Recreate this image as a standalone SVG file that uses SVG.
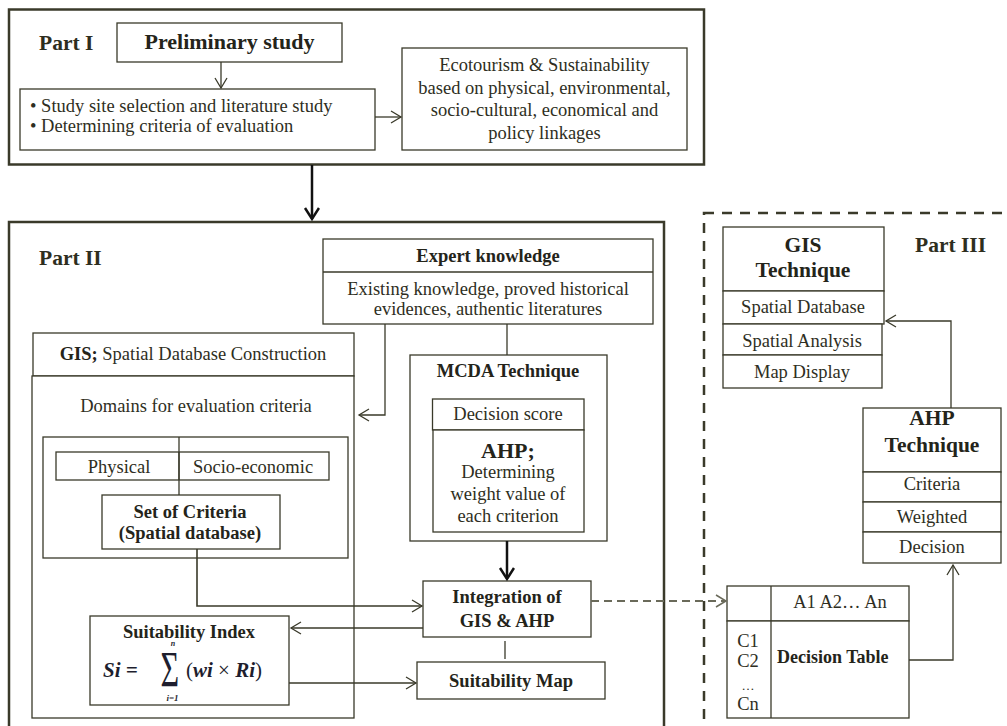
<svg xmlns="http://www.w3.org/2000/svg" width="1007" height="726" viewBox="0 0 1007 726">
<style>
  .frame{fill:none;stroke:#3a3a2a;stroke-width:2.5}
  .dframe{fill:none;stroke:#3a3a2a;stroke-width:2.5;stroke-dasharray:10 8}
  .box{fill:#fff;stroke:#3a3a2a;stroke-width:1.3}
  .ln{fill:none;stroke:#3a3a2a;stroke-width:1.3}
  .thick{fill:none;stroke:#111;stroke-width:2.5}
  .dash{fill:none;stroke:#6a6a5a;stroke-width:1.8;stroke-dasharray:8 5}
  text{font-family:"Liberation Serif","Times New Roman",serif;fill:#2e2e22;font-size:18.5px}
  .b{font-weight:bold;fill:#24241a}
  .c{text-anchor:middle}
  .part{font-weight:bold;font-size:21.5px;fill:#2e2e1e}
  .big{font-size:21.5px}
  .m{font-family:"Liberation Serif",serif;font-weight:bold;font-style:italic;fill:#1e1e2e}
</style>
<defs>
  <marker id="a" markerUnits="userSpaceOnUse" markerWidth="14" markerHeight="16" refX="11" refY="7" orient="auto">
    <path d="M1,1 L11,7 L1,13" fill="none" stroke="#3a3a2a" stroke-width="1.3"/>
  </marker>
  <marker id="ag" markerUnits="userSpaceOnUse" markerWidth="14" markerHeight="16" refX="11" refY="7" orient="auto">
    <path d="M1,1 L11,7 L1,13" fill="none" stroke="#6a6a5a" stroke-width="1.5"/>
  </marker>
  <marker id="at" markerUnits="userSpaceOnUse" markerWidth="16" markerHeight="18" refX="12" refY="8" orient="auto">
    <path d="M1,1 L12,8 L1,15" fill="none" stroke="#111" stroke-width="2.5"/>
  </marker>
</defs>
<rect width="1007" height="726" fill="#fff"/>

<g id="part1">
  <rect class="frame" x="9" y="9.5" width="695" height="155"/>
  <text class="part" x="39" y="50">Part I</text>
</g>
<g id="part2">
  <rect class="frame" x="9" y="222" width="655" height="520"/>
  <text class="part" x="39" y="265">Part II</text>
</g>
<g id="part3">
  <rect class="dframe" x="704" y="213" width="400" height="600"/>
  <text class="part" x="915" y="252">Part III</text>
</g>

<g id="preliminary">
  <rect class="box" x="117" y="23" width="225" height="39"/>
  <text class="b c" x="229.5" y="49" style="font-size:22px">Preliminary study</text>
</g>
<g id="study">
  <rect class="box" x="20" y="89" width="355" height="61"/>
  <text x="30" y="112">• Study site selection and literature study</text>
  <text x="30" y="132">• Determining criteria of evaluation</text>
</g>
<g id="eco">
  <rect class="box" x="402" y="48" width="285" height="102"/>
  <text class="c" x="544.5" y="71">Ecotourism &amp; Sustainability</text>
  <text class="c" x="544.5" y="93.5">based on physical,  environmental,</text>
  <text class="c" x="544.5" y="116">socio-cultural, economical  and</text>
  <text class="c" x="544.5" y="138.5">policy linkages</text>
</g>

<g id="expert">
  <rect class="box" x="323" y="239" width="330" height="85"/>
  <line class="ln" x1="323" y1="272" x2="653" y2="272"/>
  <text class="b c" x="488" y="262">Expert knowledge</text>
  <text class="c" x="488" y="295">Existing knowledge, proved historical</text>
  <text class="c" x="488" y="315">evidences, authentic literatures</text>
</g>

<g id="gis">
  <rect class="box" x="33" y="333" width="321" height="43"/>
  <rect class="box" x="32" y="376" width="322" height="342"/>
  <text class="c" x="193" y="360"><tspan class="b">GIS;</tspan> Spatial Database Construction</text>
  <text class="c" x="196" y="412">Domains for evaluation criteria</text>
</g>
<g id="domains">
  <rect class="box" x="43" y="437" width="305" height="121"/>
  <rect class="box" x="56" y="452" width="273" height="28"/>
  <line class="ln" x1="179" y1="452" x2="179" y2="480"/>
  <text class="c" x="119" y="473">Physical</text>
  <text class="c" x="253" y="473">Socio-economic</text>
</g>
<g id="criteria">
  <rect class="box" x="102" y="495" width="178" height="54"/>
  <text class="b c" x="190" y="518">Set of Criteria</text>
  <text class="b c" x="190" y="539">(Spatial database)</text>
</g>
<g id="suitability-index">
  <rect class="box" x="90" y="616" width="199" height="89"/>
  <text class="b c" x="189" y="638">Suitability Index</text>
  <text class="m" x="103" y="677" style="font-size:21px">Si =</text>
  <text class="m" x="173" y="646" style="font-size:8px" text-anchor="middle">n</text>
  <text transform="translate(160.5,686) scale(0.64,1)" style="font-family:'Liberation Serif',serif;font-size:50px;fill:#1e1e2e">Σ</text>
  <text class="m" x="172.5" y="701" style="font-size:9px" text-anchor="middle">i=1</text>
  <text x="186" y="677" style="font-size:21px;fill:#1e1e2e">(<tspan class="m">wi</tspan> × <tspan class="m">Ri</tspan>)</text>
</g>

<g id="mcda">
  <rect class="box" x="410" y="355" width="197" height="186"/>
  <text class="b c" x="508" y="377">MCDA  Technique</text>
</g>
<g id="ahp">
  <rect class="box" x="432.5" y="399" width="151.5" height="31"/>
  <rect class="box" x="433" y="430" width="151" height="102"/>
  <text class="c" x="508" y="420">Decision score</text>
  <text class="b c" x="508" y="458" style="font-size:22px">AHP;</text>
  <text class="c" x="508" y="478">Determining</text>
  <text class="c" x="508" y="500">weight value of</text>
  <text class="c" x="508" y="522">each criterion</text>
</g>
<g id="integration">
  <rect class="box" x="423" y="581" width="168" height="56"/>
  <text class="b c" x="507" y="603">Integration of</text>
  <text class="b c" x="507" y="627">GIS &amp; AHP</text>
</g>
<g id="suitability-map">
  <rect class="box" x="417" y="662" width="188" height="37"/>
  <text class="b c" x="511" y="687">Suitability Map</text>
</g>

<g id="gis-technique">
  <rect class="box" x="723" y="227" width="161" height="64"/>
  <rect class="box" x="723" y="291" width="161" height="33"/>
  <rect class="box" x="723" y="324" width="159" height="31"/>
  <rect class="box" x="723" y="355" width="159" height="33"/>
  <text class="b c big" x="803" y="252">GIS</text>
  <text class="b c big" x="803" y="277">Technique</text>
  <text class="c" x="803" y="313">Spatial Database</text>
  <text class="c" x="802" y="347">Spatial Analysis</text>
  <text class="c" x="802" y="378">Map Display</text>
</g>
<g id="ahp-technique">
  <rect class="box" x="863" y="408" width="138" height="64"/>
  <rect class="box" x="863" y="472" width="138" height="30"/>
  <rect class="box" x="863" y="502" width="138" height="30"/>
  <rect class="box" x="863" y="532" width="138" height="31"/>
  <text class="b c big" x="932" y="425">AHP</text>
  <text class="b c big" x="932" y="452">Technique</text>
  <text class="c" x="932" y="490">Criteria</text>
  <text class="c" x="932" y="523">Weighted</text>
  <text class="c" x="932" y="553">Decision</text>
</g>
<g id="decision-table">
  <rect class="box" x="727" y="586" width="182" height="35"/>
  <rect class="box" x="727" y="621" width="182" height="97"/>
  <line class="ln" x1="771" y1="586" x2="771" y2="718"/>
  <text class="c" x="840" y="608">A1   A2… An</text>
  <text class="c" x="748" y="647">C1</text>
  <text class="c" x="748" y="667">C2</text>
  <text class="c" x="748" y="690" style="font-size:13px">…</text>
  <text class="c" x="748" y="710">Cn</text>
  <text class="b" x="777" y="663" style="font-size:18px">Decision Table</text>
</g>

<g id="connectors">
  <line class="ln" x1="221" y1="62" x2="221" y2="88" marker-end="url(#a)"/>
  <line class="ln" x1="375" y1="117" x2="401" y2="117" marker-end="url(#a)"/>
  <line class="thick" x1="312" y1="165" x2="312" y2="219" marker-end="url(#at)"/>
  <polyline class="ln" points="385,324 385,415 359,415" marker-end="url(#a)"/>
  <line class="ln" x1="507" y1="324" x2="507" y2="355"/>
  <line class="ln" x1="179" y1="437" x2="179" y2="495"/>
  <polyline class="ln" points="197,549 197,606 422,606" marker-end="url(#a)" style="stroke-width:1.6"/>
  <line class="ln" x1="423" y1="628" x2="291" y2="628" marker-end="url(#a)"/>
  <line class="ln" x1="289" y1="683" x2="416" y2="683" marker-end="url(#a)"/>
  <line class="thick" x1="507" y1="541" x2="507" y2="579" marker-end="url(#at)"/>
  <line class="ln" x1="505" y1="641" x2="505" y2="659"/>
  <line class="dash" x1="591" y1="601" x2="726" y2="601" marker-end="url(#ag)"/>
  <polyline class="ln" points="909,660 953,660 953,565" marker-end="url(#a)"/>
  <polyline class="ln" points="951,408 951,321 886,321" marker-end="url(#a)"/>
</g>
</svg>
